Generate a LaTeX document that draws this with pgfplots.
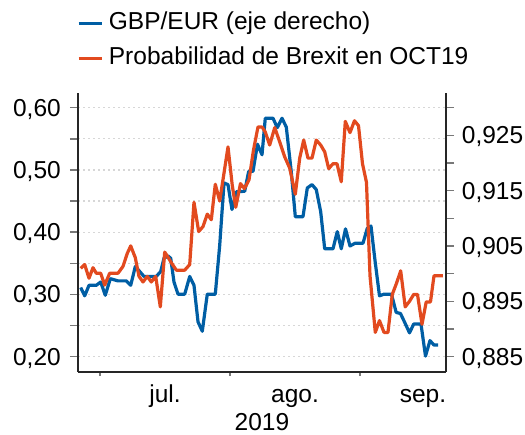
\documentclass[border=0pt]{standalone}
\usepackage{fontspec}
\setmainfont{Liberation Sans}
\usepackage{pgfplots}
\pgfplotsset{compat=1.18}
\definecolor{cblue}{RGB}{0,94,164}
\definecolor{cred}{RGB}{226,74,31}
\definecolor{gridc}{RGB}{215,215,215}
\definecolor{tickc}{RGB}{120,120,120}
\begin{document}
\fontsize{24.5bp}{29bp}\selectfont
\begin{tikzpicture}
\pgfplotsset{
  base/.style={scale only axis, width=368bp, height=279bp, at={(0,0)}, anchor=south west,
    xmin=-5.246, xmax=82.5, axis line style={line width=2bp, color=black!85},
    tick align=outside, tick style={line width=1.4bp, color=tickc}},
}
% grid + x axis
\begin{axis}[base, ymin=0.1754, ymax=0.6236,
  axis x line*=bottom, axis y line*=left, y axis line style={draw=none},
  ytick={0.2,0.25,0.3,0.35,0.4,0.45,0.5,0.55,0.6}, yticklabels={,,,,,,,,},
  ymajorgrids, major grid style={gridc, dash pattern=on 2bp off 3bp, line width=1.2bp},
  major tick length=0pt, minor tick length=4bp,
  xtick={15.5,46.5,77}, xticklabels={jul.,ago.,sep.},
  minor xtick={0,31,62},
  xticklabel style={anchor=base, inner sep=0pt, yshift=-30.7bp},
  xlabel={2019},
  every axis x label/.style={at={(axis description cs:0.5,0)}, anchor=base, inner sep=0pt, yshift=-58bp},
]
\end{axis}
% right axis (blue)
\begin{axis}[base, axis x line=none, axis y line*=right, ymin=0.88223, ymax=0.93266,
  major tick length=8bp,
  ytick={0.885,0.89,0.895,0.9,0.905,0.91,0.915,0.92,0.925,0.93},
  yticklabels={{0,885},{},{0,895},{},{0,905},{},{0,915},{},{0,925},{}},
  yticklabel style={anchor=west, inner sep=0pt, text depth=0pt, xshift=7.7bp},
]
\addplot[cblue, line width=3.2bp, line join=round] coordinates {
(-4.60,0.8975) (-3.65,0.8960) (-2.62,0.8979) (-0.88,0.8979) (0.17,0.8985) (1.26,0.8961)
(2.46,0.8991) (4.29,0.8987) (6.27,0.8987) (7.32,0.8979) (8.42,0.9013) (9.47,0.9004)
(10.49,0.8995) (13.42,0.8995) (14.47,0.9004) (15.26,0.9028) (16.21,0.9032) (16.86,0.9028)
(17.64,0.8985) (18.60,0.8963) (20.20,0.8963) (21.39,0.8995) (22.41,0.8979) (23.37,0.8913)
(24.39,0.8896) (25.58,0.8963) (27.49,0.8963) (28.54,0.9051) (29.57,0.9164) (30.52,0.9161)
(31.47,0.9116) (32.50,0.9148) (34.50,0.9149) (35.46,0.9185) (36.48,0.9185) (37.55,0.9234)
(38.63,0.9215) (39.41,0.9281) (41.25,0.9281) (42.27,0.9264) (43.40,0.9281) (44.42,0.9265)
(45.61,0.9184) (46.57,0.9103) (48.40,0.9103) (49.43,0.9155) (50.55,0.9161) (51.57,0.9152)
(52.62,0.9112) (53.58,0.9045) (55.56,0.9045) (56.58,0.9076) (57.53,0.9045) (58.54,0.9081)
(59.61,0.9050) (60.80,0.9055) (62.71,0.9055) (63.73,0.9082) (64.62,0.9086) (65.57,0.9024)
(66.64,0.8960) (67.72,0.8963) (69.50,0.8963) (70.62,0.8930) (71.65,0.8928) (72.65,0.8912)
(73.80,0.8893) (74.80,0.8909) (76.54,0.8909) (77.61,0.8851) (78.68,0.8879) (79.64,0.8871)
(80.64,0.8871)
};
\end{axis}
% left axis (red)
\begin{axis}[base, name=main, axis x line=none, axis y line*=left, ymin=0.1754, ymax=0.6236,
  major tick length=8bp,
  ytick={0.2,0.25,0.3,0.35,0.4,0.45,0.5,0.55,0.6},
  yticklabels={{0,20},{},{0,30},{},{0,40},{},{0,50},{},{0,60}},
  yticklabel style={anchor=east, inner sep=0pt, text depth=0pt, xshift=-9bp},
  legend style={at={(axis description cs:0,1)}, anchor=north west, xshift=-1bp, yshift=81bp,
    draw=none, fill=none, inner sep=0pt, outer sep=0pt, row sep=12bp, column sep=5.7bp,
    nodes={inner sep=0pt, text height=18bp, text depth=5bp}},
  legend cell align=left,
  legend image code/.code={\draw[#1] (0bp,0bp) -- (23bp,0bp);},
]
\addlegendimage{cblue, line width=3.2bp}
\addlegendentry{GBP/EUR (eje derecho)}
\addplot[cred, line width=3.2bp, line join=round] coordinates {
(-4.60,0.342) (-3.65,0.348) (-2.62,0.326) (-1.67,0.343) (-0.88,0.334) (0.17,0.334)
(1.12,0.315) (2.31,0.334) (3.50,0.334) (4.29,0.334) (5.48,0.345) (6.51,0.366)
(7.32,0.378) (8.42,0.359) (9.30,0.329) (10.25,0.320) (11.28,0.329) (12.23,0.320)
(13.28,0.329) (14.38,0.280) (15.43,0.368) (16.38,0.358) (17.00,0.351) (18.19,0.339)
(20.20,0.339) (21.39,0.348) (22.41,0.448) (23.53,0.401) (24.56,0.409) (25.58,0.429)
(26.54,0.420) (27.49,0.477) (28.54,0.450) (29.57,0.495) (30.52,0.537) (31.54,0.475)
(32.36,0.440) (33.50,0.478) (34.45,0.470) (35.53,0.484) (36.60,0.532) (37.67,0.569)
(38.63,0.569) (39.41,0.561) (40.46,0.540) (41.66,0.568) (42.85,0.545) (44.04,0.521)
(45.23,0.503) (46.57,0.461) (47.62,0.519) (48.57,0.548) (49.59,0.519) (50.55,0.519)
(51.57,0.548) (52.62,0.540) (53.58,0.529) (54.53,0.502) (55.56,0.510) (56.51,0.510)
(57.53,0.481) (58.49,0.578) (59.61,0.560) (60.68,0.579) (61.64,0.571) (62.59,0.510)
(63.54,0.480) (64.38,0.330) (65.64,0.239) (66.64,0.258) (67.72,0.239) (68.67,0.239)
(69.69,0.300) (70.70,0.318) (71.70,0.338) (72.77,0.280) (73.80,0.289) (74.80,0.300)
(75.70,0.300) (76.78,0.252) (77.78,0.288) (78.80,0.288) (79.64,0.330) (81.78,0.330)
};
\addlegendentry{Probabilidad de Brexit en OCT19}
\end{axis}
\pgfresetboundingbox
\path[use as bounding box] ([shift={(-78bp,-63bp)}]main.south west) rectangle ++(525bp,435bp);
\end{tikzpicture}
\end{document}
